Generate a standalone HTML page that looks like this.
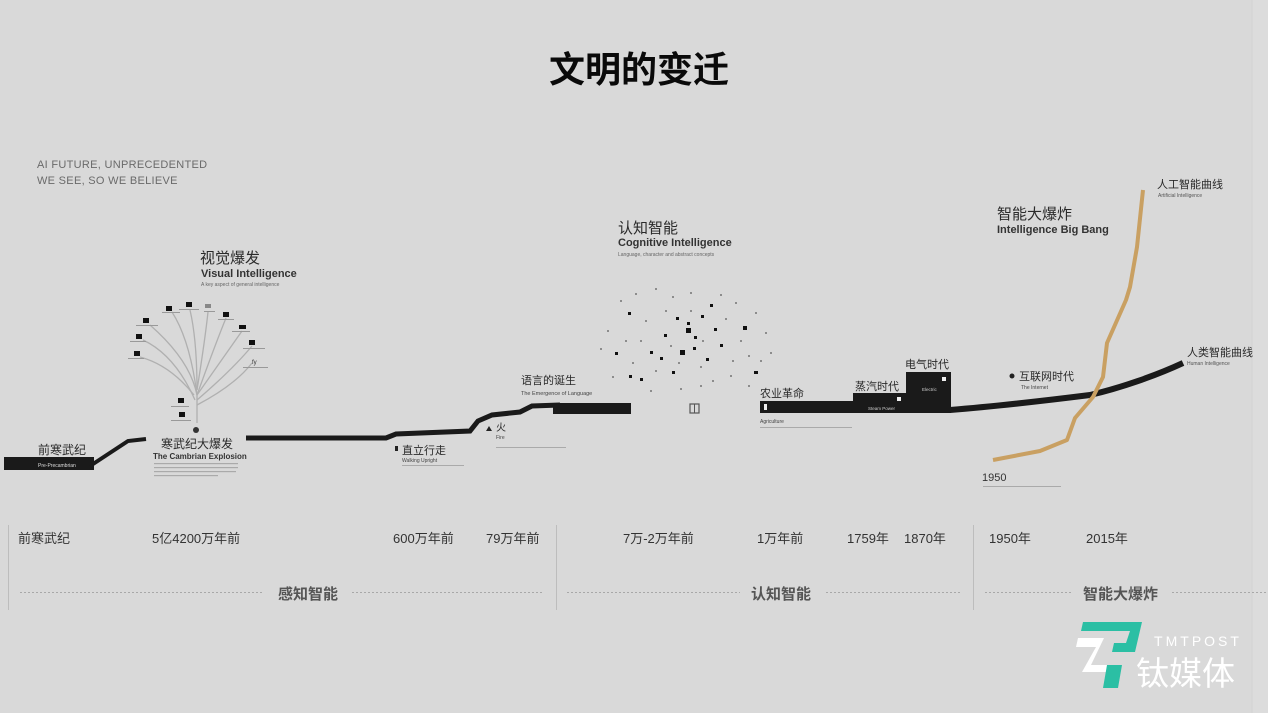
<!DOCTYPE html>
<html><head><meta charset="utf-8"><style>
html,body{margin:0;padding:0;background:#d9d9d9;}
svg{display:block;}
text{font-family:"Liberation Sans","Noto Sans CJK SC",sans-serif;}
</style></head><body>
<svg width="1268" height="713" viewBox="0 0 1268 713" xmlns="http://www.w3.org/2000/svg">
<rect width="1268" height="713" fill="#d9d9d9"/>
<rect x="1252" y="0" width="16" height="713" fill="#dcdcdc"/>
<line x1="1252" y1="0" x2="1252" y2="713" stroke="#d2d2d2" stroke-width="1"/>

<!-- Title -->
<text x="639" y="82" font-size="36" font-weight="bold" text-anchor="middle" fill="#0a0a0a">文明的变迁</text>

<!-- top-left -->
<text x="37" y="168" font-size="11" fill="#6a6a6a" letter-spacing="0.3">AI FUTURE, UNPRECEDENTED</text>
<text x="37" y="184" font-size="11" fill="#6a6a6a" letter-spacing="0.3">WE SEE, SO WE BELIEVE</text>

<!-- ===== Timeline black ===== -->
<rect x="4" y="457" width="90" height="13" fill="#1a1a1a"/>
<text x="38" y="467" font-size="5" fill="#ddd">Pre-Precambrian</text>
<path d="M90,466 L128,441 L146,439" stroke="#1a1a1a" stroke-width="4" fill="none"/>
<text x="38" y="454" font-size="12" fill="#2a2a2a">前寒武纪</text>

<path d="M246,438 L386,438 L396,434 L470,431 L478,421 L492,415 L520,412 L532,406 L560,405" stroke="#1a1a1a" stroke-width="5" fill="none"/>
<rect x="553" y="403" width="78" height="11" fill="#1a1a1a"/>

<!-- Cambrian -->
<circle cx="196" cy="430" r="3" fill="#333"/>
<text x="161" y="448" font-size="12" fill="#2a2a2a">寒武纪大爆发</text>
<text x="153" y="459" font-size="8" font-weight="bold" fill="#333">The Cambrian Explosion</text>
<rect x="154" y="463" width="84" height="1.2" fill="#aaa"/>
<rect x="154" y="467" width="84" height="1.2" fill="#aaa"/>
<rect x="154" y="471" width="82" height="1.2" fill="#aaa"/>
<rect x="154" y="475" width="64" height="1.2" fill="#aaa"/>

<!-- Visual Intelligence -->
<text x="200" y="263" font-size="15" fill="#2a2a2a">视觉爆发</text>
<text x="201" y="277" font-size="11" font-weight="bold" fill="#333">Visual Intelligence</text>
<text x="201" y="286" font-size="5" fill="#666">A key aspect of general intelligence</text>

<!-- tree -->
<g stroke="#b0b0b0" stroke-width="1.3" fill="none">
<path d="M197,423 L197,395 Q190,360 150,325"/>
<path d="M195,400 Q175,355 143,340"/>
<path d="M194,395 Q170,365 140,357"/>
<path d="M197,395 Q190,340 172,312"/>
<path d="M197,390 Q197,340 190,310"/>
<path d="M197,390 Q205,340 208,312"/>
<path d="M197,395 Q215,345 226,318"/>
<path d="M197,395 Q225,355 242,331"/>
<path d="M197,400 Q232,370 252,346"/>
<path d="M197,405 Q235,385 252,363"/>
</g>
<g fill="#111">
<rect x="143" y="318" width="6" height="5"/>
<rect x="136" y="334" width="6" height="5"/>
<rect x="134" y="351" width="6" height="5"/>
<rect x="166" y="306" width="6" height="5"/>
<rect x="186" y="302" width="6" height="5"/>
<rect x="223" y="312" width="6" height="5"/>
<rect x="239" y="325" width="7" height="4"/>
<rect x="249" y="340" width="6" height="5"/>
<rect x="178" y="398" width="6" height="5"/>
<rect x="179" y="412" width="6" height="5"/>
</g>
<rect x="205" y="304" width="6" height="4" fill="#888"/>
<text x="252" y="364" font-size="6" fill="#333">fy</text>
<g fill="#999">
<rect x="136" y="325" width="22" height="1"/>
<rect x="130" y="341" width="16" height="1"/>
<rect x="128" y="358" width="16" height="1"/>
<rect x="162" y="312" width="18" height="1"/>
<rect x="179" y="309" width="20" height="1"/>
<rect x="204" y="311" width="11" height="1"/>
<rect x="218" y="319" width="16" height="1"/>
<rect x="232" y="331" width="18" height="1"/>
<rect x="243" y="348" width="22" height="1"/>
<rect x="243" y="367" width="25" height="1"/>
<rect x="171" y="406" width="18" height="1"/>
<rect x="171" y="420" width="20" height="1"/>
</g>

<!-- Walking upright -->
<rect x="395" y="446" width="3" height="5" fill="#222"/>
<text x="402" y="454" font-size="11" fill="#2a2a2a">直立行走</text>
<text x="402" y="462" font-size="5" fill="#444">Walking Upright</text>
<rect x="402" y="465" width="62" height="1" fill="#aaa"/>

<!-- Fire -->
<path d="M486,431 L489,426 L492,431 Z" fill="#222"/>
<text x="496" y="431" font-size="10" fill="#2a2a2a">火</text>
<text x="496" y="439" font-size="5" fill="#444">Fire</text>
<rect x="496" y="447" width="70" height="1" fill="#aaa"/>

<!-- Language -->
<text x="521" y="384" font-size="11" fill="#2a2a2a">语言的诞生</text>
<text x="521" y="395" font-size="5.5" fill="#444">The Emergence of Language</text>

<!-- Cognitive -->
<text x="618" y="233" font-size="15" fill="#2a2a2a">认知智能</text>
<text x="618" y="246" font-size="11" font-weight="bold" fill="#333">Cognitive Intelligence</text>
<text x="618" y="256" font-size="5" fill="#666">Language, character and abstract concepts</text>

<g fill="#111">
<rect x="686" y="328" width="5" height="5"/>
<rect x="680" y="350" width="5" height="5"/>
<rect x="694" y="336" width="3" height="3"/>
<rect x="706" y="358" width="3" height="3"/>
<rect x="676" y="317" width="3" height="3"/>
<rect x="664" y="334" width="3" height="3"/>
<rect x="650" y="351" width="3" height="3"/>
<rect x="629" y="375" width="3" height="3"/>
<rect x="640" y="378" width="3" height="3"/>
<rect x="701" y="315" width="3" height="3"/>
<rect x="743" y="326" width="4" height="4"/>
<rect x="754" y="371" width="4" height="3"/>
<rect x="714" y="328" width="3" height="3"/>
<rect x="672" y="371" width="3" height="3"/>
<rect x="693" y="347" width="3" height="3"/>
<rect x="660" y="357" width="3" height="3"/>
<rect x="720" y="344" width="3" height="3"/>
<rect x="710" y="304" width="3" height="3"/>
<rect x="615" y="352" width="3" height="3"/>
<rect x="628" y="312" width="3" height="3"/>
<rect x="687" y="322" width="3" height="3"/>
</g>
<g fill="#8c8c8c">
<rect x="607" y="330" width="2" height="2"/>
<rect x="600" y="348" width="2" height="2"/>
<rect x="620" y="300" width="2" height="2"/>
<rect x="635" y="293" width="2" height="2"/>
<rect x="655" y="288" width="2" height="2"/>
<rect x="672" y="296" width="2" height="2"/>
<rect x="690" y="292" width="2" height="2"/>
<rect x="720" y="294" width="2" height="2"/>
<rect x="735" y="302" width="2" height="2"/>
<rect x="755" y="312" width="2" height="2"/>
<rect x="765" y="332" width="2" height="2"/>
<rect x="770" y="352" width="2" height="2"/>
<rect x="760" y="360" width="2" height="2"/>
<rect x="748" y="385" width="2" height="2"/>
<rect x="730" y="375" width="2" height="2"/>
<rect x="700" y="385" width="2" height="2"/>
<rect x="680" y="388" width="2" height="2"/>
<rect x="650" y="390" width="2" height="2"/>
<rect x="632" y="362" width="2" height="2"/>
<rect x="612" y="376" width="2" height="2"/>
<rect x="645" y="320" width="2" height="2"/>
<rect x="670" y="345" width="2" height="2"/>
<rect x="700" y="366" width="2" height="2"/>
<rect x="690" y="310" width="2" height="2"/>
<rect x="732" y="360" width="2" height="2"/>
<rect x="712" y="380" width="2" height="2"/>
<rect x="665" y="310" width="2" height="2"/>
<rect x="640" y="340" width="2" height="2"/>
<rect x="740" y="340" width="2" height="2"/>
<rect x="655" y="370" width="2" height="2"/>
<rect x="725" y="318" width="2" height="2"/>
<rect x="678" y="362" width="2" height="2"/>
<rect x="702" y="340" width="2" height="2"/>
<rect x="625" y="340" width="2" height="2"/>
<rect x="748" y="355" width="2" height="2"/>
</g>
<rect x="690" y="404" width="9" height="9" fill="none" stroke="#555" stroke-width="1.2"/>
<line x1="694.5" y1="404" x2="694.5" y2="413" stroke="#555" stroke-width="1"/>

<!-- Agriculture -->
<rect x="760" y="401" width="93" height="12" fill="#1a1a1a"/>
<rect x="764" y="404" width="3" height="6" fill="#eee"/>
<text x="760" y="397" font-size="11" fill="#2a2a2a">农业革命</text>
<text x="760" y="423" font-size="5" fill="#444">Agriculture</text>
<rect x="760" y="427" width="92" height="1" fill="#aaa"/>

<!-- Steam -->
<rect x="853" y="393" width="53" height="20" fill="#1a1a1a"/>
<rect x="897" y="397" width="4" height="4" fill="#eee"/>
<text x="868" y="410" font-size="4.5" fill="#ccc">Steam Power</text>
<text x="855" y="390" font-size="11" fill="#2a2a2a">蒸汽时代</text>

<!-- Electric -->
<rect x="906" y="372" width="45" height="41" fill="#1a1a1a"/>
<rect x="942" y="377" width="4" height="4" fill="#eee"/>
<text x="922" y="391" font-size="4.5" fill="#ccc">Electric</text>
<text x="905" y="368" font-size="11" fill="#2a2a2a">电气时代</text>

<!-- human curve -->
<path d="M950,410 C1000,406 1050,400 1090,395 C1120,388 1155,376 1183,363" stroke="#1a1a1a" stroke-width="6" fill="none"/>

<!-- AI curve -->
<path d="M993,460 L1040,451 L1067,440 L1075,418 L1093,397 L1103,377 L1107,343 L1126,300 L1130,287 L1137,247 L1143,190" stroke="#c9a062" stroke-width="4" fill="none" stroke-linejoin="round"/>

<!-- Internet -->
<circle cx="1012" cy="376" r="2.5" fill="#222"/>
<text x="1019" y="380" font-size="11" fill="#2a2a2a">互联网时代</text>
<text x="1021" y="389" font-size="5" fill="#444">The Internet</text>

<text x="997" y="219" font-size="15" fill="#2a2a2a">智能大爆炸</text>
<text x="997" y="233" font-size="11" font-weight="bold" fill="#333">Intelligence Big Bang</text>

<text x="1157" y="188" font-size="11" fill="#2a2a2a">人工智能曲线</text>
<text x="1158" y="197" font-size="5" fill="#555">Artificial Intelligence</text>
<text x="1187" y="356" font-size="11" fill="#2a2a2a">人类智能曲线</text>
<text x="1187" y="365" font-size="5" fill="#555">Human Intelligence</text>

<text x="982" y="481" font-size="11" fill="#333">1950</text>
<rect x="983" y="486" width="78" height="1" fill="#aaa"/>

<!-- ===== Bottom axis ===== -->
<g stroke="#bdbdbd" stroke-width="1">
<line x1="8.5" y1="525" x2="8.5" y2="610"/>
<line x1="556.5" y1="525" x2="556.5" y2="610"/>
<line x1="973.5" y1="525" x2="973.5" y2="610"/>
</g>
<g font-size="13" fill="#333">
<text x="18" y="543">前寒武纪</text>
<text x="152" y="543">5亿4200万年前</text>
<text x="393" y="543">600万年前</text>
<text x="486" y="543">79万年前</text>
<text x="623" y="543">7万-2万年前</text>
<text x="757" y="543">1万年前</text>
<text x="847" y="543">1759年</text>
<text x="904" y="543">1870年</text>
<text x="989" y="543">1950年</text>
<text x="1086" y="543">2015年</text>
</g>
<g stroke="#a8a8a8" stroke-width="1" stroke-dasharray="2,2">
<line x1="20" y1="592.5" x2="262" y2="592.5"/>
<line x1="352" y1="592.5" x2="544" y2="592.5"/>
<line x1="567" y1="592.5" x2="740" y2="592.5"/>
<line x1="826" y1="592.5" x2="962" y2="592.5"/>
<line x1="985" y1="592.5" x2="1073" y2="592.5"/>
<line x1="1172" y1="592.5" x2="1268" y2="592.5"/>
</g>
<g font-size="15" font-weight="bold" fill="#555">
<text x="278" y="599">感知智能</text>
<text x="751" y="599">认知智能</text>
<text x="1083" y="599">智能大爆炸</text>
</g>

<!-- Logo -->
<polygon points="1083,622 1142,622 1135,652 1112,652 1114,643 1126,643 1130,631 1081,631" fill="#2bbfa4"/>
<polygon points="1078,638 1104,638 1091,665 1113,665 1111,672 1082,672 1096,647 1076,647" fill="#ffffff"/>
<polygon points="1107,665 1122,665 1118,688 1103,688" fill="#2bbfa4"/>
<text x="1198" y="646" font-size="14" fill="#ffffff" text-anchor="middle" letter-spacing="3">TMTPOST</text>
<text x="1136" y="685" font-size="33" fill="#ffffff">钛媒体</text>
</svg>
</body></html>
